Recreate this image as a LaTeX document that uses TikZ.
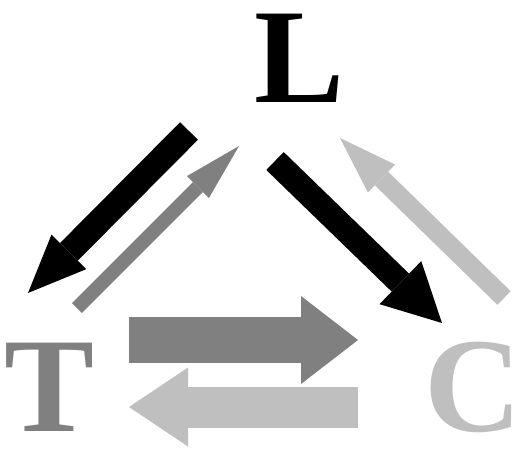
\documentclass[tikz,border=0pt]{standalone}
\usepackage{fontspec}
\setmainfont{Liberation Serif}
\usetikzlibrary{arrows.meta}

\begin{document}
\begin{tikzpicture}[%
      x=1pt, y=-1pt, %
      letter/.style={font=\fontsize{135}{135}\selectfont\bfseries, inner sep=0pt, anchor=base,
        text height=92pt, text depth=4pt}
      ]
      \useasboundingbox (0,0) rectangle (513,448);

      % Letters
      \node[letter, black] (L) at (300,102) {L};
      \node[letter, gray] (T) at (50,431) {T};
      \node[letter, lightgray] (C) at (473,431) {C};

      % Arrow ends
      \coordinate (lt0) at (189,131);
      \coordinate (lt1) at (28,293);
      \coordinate (tl0) at (77,308);
      \coordinate (tl1) at (239,146);
      \coordinate (lc0) at (275,161);
      \coordinate (lc1) at (442,323);
      \coordinate (cl0) at (504,298);
      \coordinate (cl1) at (340,138);
      \coordinate (tc0) at (129,340);
      \coordinate (tc1) at (358,340);
      \coordinate (ct0) at (358,407);
      \coordinate (ct1) at (129,407);

      % Block arrows
      \foreach \a/\b/\thecolor/\w/\hw/\hl in {%
        lt0/lt1/black/25/49/58,%
        tl0/tl1/gray/14/31/58,%
        lc0/lc1/black/25/60/58,%
        cl0/cl1/lightgray/19/39/58,%
        tc0/tc1/gray/46/88/57,%
        ct0/ct1/lightgray/41/79/59%
      }{
        \draw[\thecolor, line width=\w pt, -{Triangle[width=\hw pt, length=\hl pt, line width=0pt]}] (\a) -- (\b);
      }

    \end{tikzpicture}
\end{document}
